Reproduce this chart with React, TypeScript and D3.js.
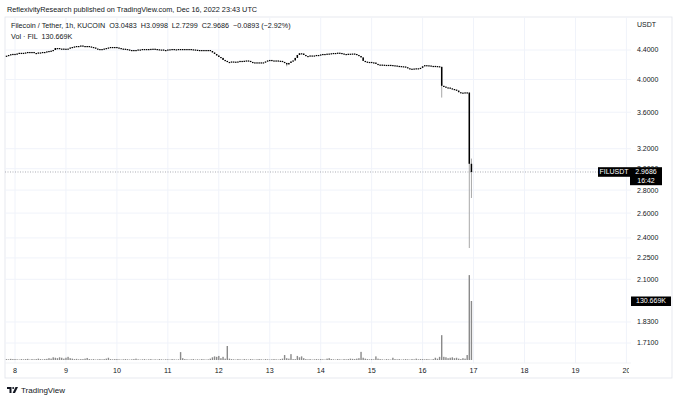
import React from 'react';
import * as d3 from 'd3';

const width = 680;
const height = 400;

// hourly candles, first one opens Dec 7 20:00 UTC
const startTime = Date.UTC(2022, 11, 7, 20);
const hour = 3600 * 1000;

const closes = [
  // Dec 7 20:00-23:00
  4.32, 4.33, 4.34, 4.345,
  // Dec 8
  4.34, 4.35, 4.36, 4.355, 4.36, 4.365, 4.372, 4.365, 4.372, 4.358, 4.35, 4.365,
  4.36, 4.372, 4.372, 4.38, 4.386, 4.39, 4.4, 4.428, 4.428, 4.42, 4.42, 4.414,
  // Dec 9
  4.418, 4.42, 4.435, 4.443, 4.45, 4.457, 4.457, 4.464, 4.457, 4.45, 4.457, 4.45,
  4.443, 4.435, 4.42, 4.414, 4.414, 4.414, 4.42, 4.428, 4.435, 4.443, 4.443, 4.443,
  // Dec 10
  4.435, 4.428, 4.42, 4.418, 4.414, 4.407, 4.4, 4.4, 4.396, 4.4, 4.407, 4.407,
  4.414, 4.414, 4.414, 4.414, 4.416, 4.418, 4.414, 4.41, 4.407, 4.407, 4.4, 4.4,
  // Dec 11
  4.407, 4.41, 4.414, 4.41, 4.41, 4.414, 4.414, 4.414, 4.414, 4.414, 4.414, 4.41,
  4.407, 4.403, 4.4, 4.4, 4.4, 4.4, 4.4, 4.4, 4.386, 4.365, 4.344, 4.323,
  // Dec 12
  4.302, 4.289, 4.261, 4.248, 4.234, 4.234, 4.24, 4.238, 4.238, 4.24, 4.248, 4.248,
  4.25, 4.254, 4.248, 4.234, 4.225, 4.228, 4.225, 4.228, 4.225, 4.228, 4.24, 4.254,
  // Dec 13
  4.261, 4.254, 4.25, 4.254, 4.25, 4.248, 4.234, 4.22, 4.2, 4.22, 4.24, 4.254,
  4.289, 4.33, 4.354, 4.35, 4.33, 4.316, 4.316, 4.323, 4.323, 4.323, 4.33, 4.33,
  // Dec 14
  4.337, 4.344, 4.344, 4.348, 4.35, 4.354, 4.358, 4.358, 4.362, 4.358, 4.35, 4.344,
  4.344, 4.347, 4.348, 4.35, 4.344, 4.33, 4.316, 4.296, 4.248, 4.238, 4.234, 4.234,
  // Dec 15
  4.228, 4.225, 4.207, 4.194, 4.198, 4.196, 4.194, 4.194, 4.194, 4.192, 4.188, 4.185,
  4.18, 4.178, 4.175, 4.172, 4.162, 4.148, 4.138, 4.142, 4.145, 4.148, 4.145, 4.154,
  // Dec 16
  4.175, 4.19, 4.188, 4.185, 4.18, 4.18, 4.178, 4.175, 4.167, 3.92, 3.91, 3.9,
  3.898, 3.888, 3.88, 3.872, 3.86, 3.84, 3.832, 3.835, 3.838, 3.835, 3.0483, 2.9686,
];

// volume in thousands of FIL
const volumes = [
  2, 1.5, 2.5, 2,
  2, 1.5, 1, 2, 1.5, 2, 2.5, 1, 2, 1.5, 2, 3, 2, 1.5, 2, 2.5, 4, 3, 6, 5, 4, 6, 5, 3,
  5, 7, 4, 3, 2, 2.5, 1.5, 2, 2, 3, 4.5, 2, 1.5, 2, 1, 1.5, 2, 1.5, 2, 3, 5, 2, 1.5, 2,
  2, 1.5, 1, 1.5, 2, 1.5, 1, 1.5, 2, 3, 1.5, 1, 1.5, 2, 1, 1.5, 2, 1, 1.5, 1, 2, 1.5, 1, 1.5,
  1.5, 1, 2, 1.5, 1, 1.5, 17.5, 4, 2, 1.5, 1, 1.5, 2, 1, 1.5, 1, 2, 1.5, 1, 1.5, 3, 6, 8, 7,
  9, 4, 7, 3, 31, 3, 2, 1.5, 1, 2, 1.5, 1, 2, 1.5, 1, 2, 1.5, 1, 1.5, 2, 1.5, 1, 2, 1.5,
  1, 1.5, 2, 1.5, 1, 2, 3, 11, 4, 3, 13, 2, 2, 9, 6, 8, 4, 2, 1.5, 2, 1, 1.5, 2, 1.5,
  2, 1.5, 1, 3, 4, 2, 1.5, 1, 2, 1.5, 1, 2, 1.5, 2, 3, 2.5, 2, 3, 4, 18, 5, 3, 2, 1.5,
  2, 1.5, 8, 3, 2, 1.5, 1, 2, 1.5, 1, 5, 2, 1.5, 2, 1, 1.5, 2, 1.5, 1, 2, 1.5, 3, 1.5, 2,
  2, 1.5, 2, 1.5, 1, 2, 5, 3, 7, 55, 7, 6, 4, 5, 6, 4, 5, 3, 2, 4, 3, 11, 188, 130.669,
];

// candles whose wicks reach past the body
const wicks = [
  { i: 132, high: 4.22, low: 4.175 },
  { i: 205, high: 4.17, low: 3.774 },
  { i: 218, high: 3.84, low: 2.323 },
  { i: 219, high: 3.0998, low: 2.7299 },
];

const priceTicks = [4.4, 4.0, 3.6, 3.2, 3.0, 2.8, 2.6, 2.4, 2.25, 2.1, 1.83, 1.71];
const dayTicks = [8, 9, 10, 11, 12, 13, 14, 15, 16, 17, 18, 19, 20];

const lastPrice = 2.9686;
const lastVolume = 130.669;

const font = '"Liberation Sans", Arial, sans-serif';
const ink = '#131722';

const App: React.FC = () => {
  const plotLeft = 5;
  const plotRight = 631;
  const plotTop = 17;
  const plotBottom = 363;

  const x = d3.scaleUtc()
    .domain([new Date(Date.UTC(2022, 11, 8)), new Date(Date.UTC(2022, 11, 20))])
    .range([15, 626.4]);

  const y = d3.scaleLog().domain([4.4, 1.71]).range([50, 343]);
  const yVol = d3.scaleLinear().domain([0, lastVolume]).range([360, 301]);

  const candles = closes.map((c, i) => {
    const o = i === 0 ? c : closes[i - 1];
    const w = wicks.find(d => d.i === i);
    return {
      t: new Date(startTime + i * hour),
      o,
      c,
      h: w ? w.high : Math.max(o, c),
      l: w ? w.low : Math.min(o, c),
      v: volumes[i],
    };
  });

  const bw = 1.5;

  return (
    <svg width={width} height={height} style={{ position: 'absolute', left: 0, top: 0, background: '#fff' }}
      fontFamily={font}>
      <defs>
        <clipPath id="plot">
          <rect x={plotLeft} y={plotTop} width={plotRight - plotLeft} height={plotBottom - plotTop} />
        </clipPath>
        <clipPath id="timeaxis">
          <rect x={plotLeft} y={plotBottom} width={629 - plotLeft} height={15} />
        </clipPath>
      </defs>

      <text x={7} y={11.5} fontSize={7.3} fill={ink}>
        ReflexivityResearch published on TradingView.com, Dec 16, 2022 23:43 UTC
      </text>

      {/* frame */}
      <rect x={5} y={17} width={667} height={361} fill="none" stroke="#e0e3eb" strokeWidth={0.8} />

      {/* grid */}
      <g clipPath="url(#plot)">
        {dayTicks.map(d => (
          <line key={d} x1={x(new Date(Date.UTC(2022, 11, d)))} x2={x(new Date(Date.UTC(2022, 11, d)))}
            y1={plotTop} y2={plotBottom} stroke="#f0f3fa" strokeWidth={1} />
        ))}
        {priceTicks.map(p => (
          <line key={p} x1={plotLeft} x2={plotRight} y1={y(p)} y2={y(p)} stroke="#f0f3fa" strokeWidth={1} />
        ))}
      </g>
      <line x1={plotLeft} x2={plotRight} y1={plotBottom} y2={plotBottom} stroke="#eef0f4" strokeWidth={0.8} />

      {/* volume */}
      <g clipPath="url(#plot)">
        {candles.map((d, i) => (
          <rect key={i} x={x(d.t) - 0.7} width={1.4} y={yVol(d.v)} height={yVol(0) - yVol(d.v)}
            fill="#8a8a8a" />
        ))}
      </g>

      {/* last price line */}
      <line x1={plotLeft} x2={598} y1={y(lastPrice)} y2={y(lastPrice)} stroke="#9598a1"
        strokeWidth={0.8} strokeDasharray="1,1.5" />

      {/* candles */}
      <g clipPath="url(#plot)">
        {candles.map((d, i) => (
          <line key={'w' + i} x1={x(d.t)} x2={x(d.t)} y1={y(d.h)} y2={y(d.l)} stroke="#a8a8a8" strokeWidth={1} />
        ))}
        {candles.map((d, i) => {
          const top = y(Math.max(d.o, d.c));
          const bot = y(Math.min(d.o, d.c));
          return (
            <rect key={'b' + i} x={x(d.t) - bw / 2} width={bw} y={top} height={Math.max(1.2, bot - top)}
              fill="#000" />
          );
        })}
      </g>

      {/* legend */}
      <text x={11} y={28} fontSize={7.2} fill={ink} style={{ whiteSpace: 'pre' }}>
        {'Filecoin / Tether, 1h, KUCOIN  O3.0483  H3.0998  L2.7299  C2.9686  −0.0893 (−2.92%)'}
      </text>
      <text x={11} y={39} fontSize={7.2} fill={ink} style={{ whiteSpace: 'pre' }}>
        {'Vol · FIL  130.669K'}
      </text>

      {/* price scale */}
      <text x={637} y={27} fontSize={7} fill={ink}>USDT</text>
      {priceTicks.map(p => (
        <text key={p} x={637} y={y(p)} dy="0.35em" fontSize={7} fill={ink}>{p.toFixed(4)}</text>
      ))}

      {/* last price tag */}
      <rect x={598} y={y(lastPrice) - 4.8} width={32} height={9.6} fill="#000" />
      <text x={614} y={y(lastPrice)} dy="0.35em" fontSize={7} fill="#fff" textAnchor="middle">FILUSDT</text>
      <rect x={630} y={y(lastPrice) - 4.8} width={32} height={18} fill="#000" />
      <text x={646} y={y(lastPrice)} dy="0.35em" fontSize={7} fill="#fff" textAnchor="middle">
        {lastPrice.toFixed(4)}
      </text>
      <text x={646} y={y(lastPrice) + 9} dy="0.35em" fontSize={7} fill="#fff" textAnchor="middle">16:42</text>

      {/* last volume tag */}
      <rect x={631} y={yVol(lastVolume) - 4.5} width={40} height={9.5} fill="#000" />
      <text x={651} y={yVol(lastVolume)} dy="0.35em" fontSize={7} fill="#fff" textAnchor="middle">
        {lastVolume.toFixed(3)}K
      </text>

      {/* time axis */}
      <g clipPath="url(#timeaxis)">
        {dayTicks.map(d => (
          <text key={d} x={x(new Date(Date.UTC(2022, 11, d)))} y={373} fontSize={7.2} fill={ink}
            textAnchor="middle">{d}</text>
        ))}
      </g>

      {/* TradingView mark */}
      <g transform="translate(7,387)" fill="#131722">
        <path d="M0,0 H4.5 V6 H2.5 V2 H0 Z" />
        <circle cx={6.2} cy={1} r={1} />
        <path d="M8.5,0 H11 L8,6 H5.6 Z" />
      </g>
      <text x={21} y={393} fontSize={8} fill={ink}>TradingView</text>
    </svg>
  );
};

export default App;
